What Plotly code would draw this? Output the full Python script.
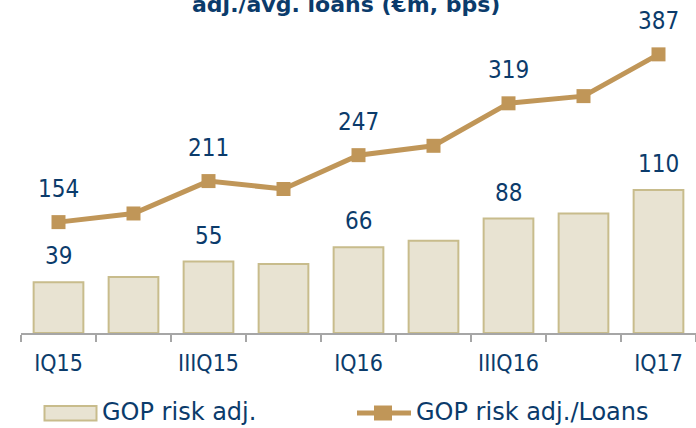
import plotly.graph_objects as go

categories = ["IQ15", "IIQ15", "IIIQ15", "IVQ15", "IQ16", "IIQ16", "IIIQ16", "IVQ16", "IQ17"]
tick_labels = ["IQ15", "", "IIIQ15", "", "IQ16", "", "IIIQ16", "", "IQ17"]
gop_risk_adj = [39, 43, 55, 53, 66, 71, 88, 92, 110]
gop_risk_adj_loans = [154, 166, 211, 200, 247, 260, 319, 329, 387]
bar_labels = ["39", "", "55", "", "66", "", "88", "", "110"]
line_labels = ["154", "", "211", "", "247", "", "319", "", "387"]

NAVY = "#0B3B6B"
GOLD = "#C09658"
BAR_FILL = "#E8E3D2"
BAR_LINE = "#C8BC8C"
FONT = "DejaVu Sans Condensed, Liberation Sans Narrow, DejaVu Sans, sans-serif"
LEG_FONT = "DejaVu Sans, sans-serif"

W, H = 696, 428
ML, MR, MT, MB = 21, 0, 20, 95
PW, PH = W - ML - MR, H - MT - MB


def px_x(px):
    return (px - ML) / PW


def px_y(py):
    return 1 - (py - MT) / PH


fig = go.Figure()
fig.add_trace(go.Bar(
    x=categories, y=gop_risk_adj, name="GOP risk adj.",
    marker=dict(color=BAR_FILL, line=dict(color=BAR_LINE, width=2)),
    yaxis="y", showlegend=False,
))
fig.add_trace(go.Scatter(
    x=categories, y=gop_risk_adj_loans, name="GOP risk adj./Loans",
    mode="lines+markers",
    line=dict(color=GOLD, width=5),
    marker=dict(symbol="square", size=14, color=GOLD),
    yaxis="y2", showlegend=False, cliponaxis=False,
))

annotations = []
for c, v, t in zip(categories, gop_risk_adj, bar_labels):
    if t:
        annotations.append(dict(x=c, y=v, xref="x", yref="y", text=t, showarrow=False,
                                yanchor="bottom", yshift=10,
                                font=dict(family=FONT, size=24, color=NAVY)))
for c, v, t in zip(categories, gop_risk_adj_loans, line_labels):
    if t:
        annotations.append(dict(x=c, y=v, xref="x", yref="y2", text=t, showarrow=False,
                                yanchor="bottom", yshift=17,
                                font=dict(family=FONT, size=24, color=NAVY)))

# title (partially cut at the top, as in the reference)
annotations.append(dict(x=px_x(345.5), y=px_y(4), xref="paper", yref="paper",
                        text="<b>adj./avg. loans (€m, bps)</b>", showarrow=False,
                        xanchor="center", yanchor="middle",
                        font=dict(family="DejaVu Sans", size=22, color=NAVY)))

# legend texts
annotations.append(dict(x=px_x(100), y=px_y(412), xref="paper", yref="paper",
                        text="GOP risk adj.", showarrow=False, xanchor="left", yanchor="middle",
                        font=dict(family=LEG_FONT, size=24, color=NAVY)))
annotations.append(dict(x=px_x(414), y=px_y(412), xref="paper", yref="paper",
                        text="GOP risk adj./Loans", showarrow=False, xanchor="left", yanchor="middle",
                        font=dict(family=LEG_FONT, size=24, color=NAVY)))

shapes = [
    dict(type="rect", xref="paper", yref="paper",
         x0=px_x(44.5), x1=px_x(96.5), y0=px_y(420.5), y1=px_y(406),
         fillcolor=BAR_FILL, line=dict(color=BAR_LINE, width=2)),
    dict(type="line", xref="paper", yref="paper",
         x0=px_x(357), x1=px_x(411), y0=px_y(413), y1=px_y(413),
         line=dict(color=GOLD, width=5)),
    dict(type="rect", xref="paper", yref="paper",
         x0=px_x(374), x1=px_x(392), y0=px_y(420.5), y1=px_y(405.5),
         fillcolor=GOLD, line=dict(color=GOLD, width=0)),
]

fig.update_layout(
    width=W, height=H,
    margin=dict(l=ML, r=MR, t=MT, b=MB),
    paper_bgcolor="white", plot_bgcolor="white",
    bargap=0.337,
    showlegend=False,
    annotations=annotations,
    shapes=shapes,
    xaxis=dict(
        type="category", tickmode="array", tickvals=categories, ticktext=tick_labels,
        tickson="boundaries", ticks="outside", ticklen=7, tickwidth=1.5, tickcolor="#A6A6A6",
        showline=True, linecolor="#A6A6A6", linewidth=2,
        showgrid=False, zeroline=False,
        tickfont=dict(family=FONT, size=23, color=NAVY),
        ticklabelstandoff=8,
        range=[-0.5, 8.5],
    ),
    yaxis=dict(range=[0, PH / 1.30], visible=False, showgrid=False),
    yaxis2=dict(range=[0, PH / 0.72], visible=False, overlaying="y", showgrid=False),
)

fig.write_html(
    "out.html",
    config={"displayModeBar": False},
    post_script="document.body.style.margin='0px';document.body.style.overflow='hidden';",
)
